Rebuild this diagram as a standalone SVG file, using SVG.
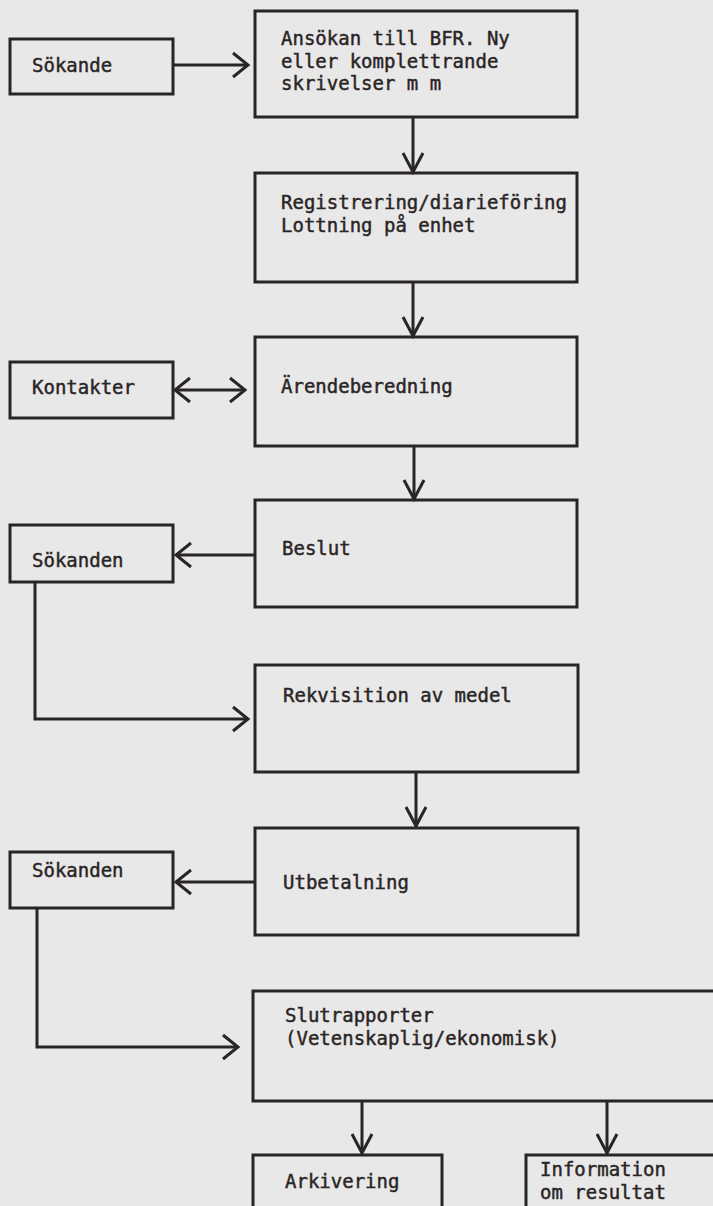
<svg xmlns="http://www.w3.org/2000/svg" width="713" height="1206" viewBox="0 0 713 1206">
<style>
.bx{fill:none;stroke:#2a2525;stroke-width:3}
.ln{fill:none;stroke:#2a2525;stroke-width:3}
text{font-family:"DejaVu Sans Mono","Liberation Mono",monospace;font-size:19px;fill:#2a2525;stroke:#2a2525;stroke-width:0.45}
</style>
<defs>
<marker id="ah" markerUnits="userSpaceOnUse" viewBox="-20 -16 24 32" refX="0" refY="0" markerWidth="24" markerHeight="32" orient="auto-start-reverse">
<path d="M-15,-12 L0,0 L-15,12" fill="none" stroke="#2a2525" stroke-width="3" stroke-linejoin="miter"/>
</marker>
<marker id="av" markerUnits="userSpaceOnUse" viewBox="-24 -14 28 28" refX="0" refY="0" markerWidth="28" markerHeight="28" orient="auto">
<path d="M-19,-10 L0,0 L-19,10" fill="none" stroke="#2a2525" stroke-width="3"/>
</marker>
</defs>
<rect x="0" y="0" width="713" height="1206" fill="#e8e8e8"/>
<g id="connectors">
<path class="ln" d="M173,65 H248" marker-end="url(#ah)"/>
<path class="ln" d="M413,117 V172" marker-end="url(#av)"/>
<path class="ln" d="M413,282 V336" marker-end="url(#av)"/>
<path class="ln" d="M175,390 H245" marker-start="url(#ah)" marker-end="url(#ah)"/>
<path class="ln" d="M414,446 V499" marker-end="url(#av)"/>
<path class="ln" d="M255,555 H176" marker-end="url(#ah)"/>
<path class="ln" d="M35,582 V719 H248" marker-end="url(#ah)"/>
<path class="ln" d="M416,772 V826" marker-end="url(#av)"/>
<path class="ln" d="M255,882 H176" marker-end="url(#ah)"/>
<path class="ln" d="M37,908 V1047 H238" marker-end="url(#ah)"/>
<path class="ln" d="M362,1101 V1153" marker-end="url(#av)"/>
<path class="ln" d="M607,1101 V1153" marker-end="url(#av)"/>
</g>
<g id="sokande"><rect class="bx" x="10" y="39" width="163" height="55"/><text x="32" y="72">Sökande</text></g>
<g id="ansokan"><rect class="bx" x="255" y="11" width="322" height="106"/><text x="281" y="45">Ansökan till BFR. Ny</text><text x="281" y="68">eller komplettrande</text><text x="281" y="90">skrivelser m m</text></g>
<g id="registrering"><rect class="bx" x="255" y="173" width="322" height="109"/><text x="281" y="209">Registrering/diarieföring</text><text x="281" y="232">Lottning på enhet</text></g>
<g id="kontakter"><rect class="bx" x="10" y="362" width="163" height="56"/><text x="32" y="394">Kontakter</text></g>
<g id="arendeberedning"><rect class="bx" x="255" y="337" width="322" height="109"/><text x="281" y="393">Ärendeberedning</text></g>
<g id="sokanden1"><rect class="bx" x="10" y="525" width="163" height="57"/><text x="32" y="567">Sökanden</text></g>
<g id="beslut"><rect class="bx" x="255" y="500" width="322" height="107"/><text x="282" y="555">Beslut</text></g>
<g id="rekvisition"><rect class="bx" x="255" y="665" width="323" height="107"/><text x="283" y="702">Rekvisition av medel</text></g>
<g id="sokanden2"><rect class="bx" x="10" y="852" width="163" height="56"/><text x="32" y="877">Sökanden</text></g>
<g id="utbetalning"><rect class="bx" x="255" y="828" width="323" height="107"/><text x="283" y="889">Utbetalning</text></g>
<g id="slutrapporter"><rect class="bx" x="253" y="991" width="470" height="110"/><text x="285" y="1022">Slutrapporter</text><text x="285" y="1045">(Vetenskaplig/ekonomisk)</text></g>
<g id="arkivering"><rect class="bx" x="253" y="1155" width="189" height="70"/><text x="285" y="1188">Arkivering</text></g>
<g id="information"><rect class="bx" x="526" y="1155" width="200" height="70"/><text x="540" y="1176">Information</text><text x="540" y="1199">om resultat</text></g>
</svg>
